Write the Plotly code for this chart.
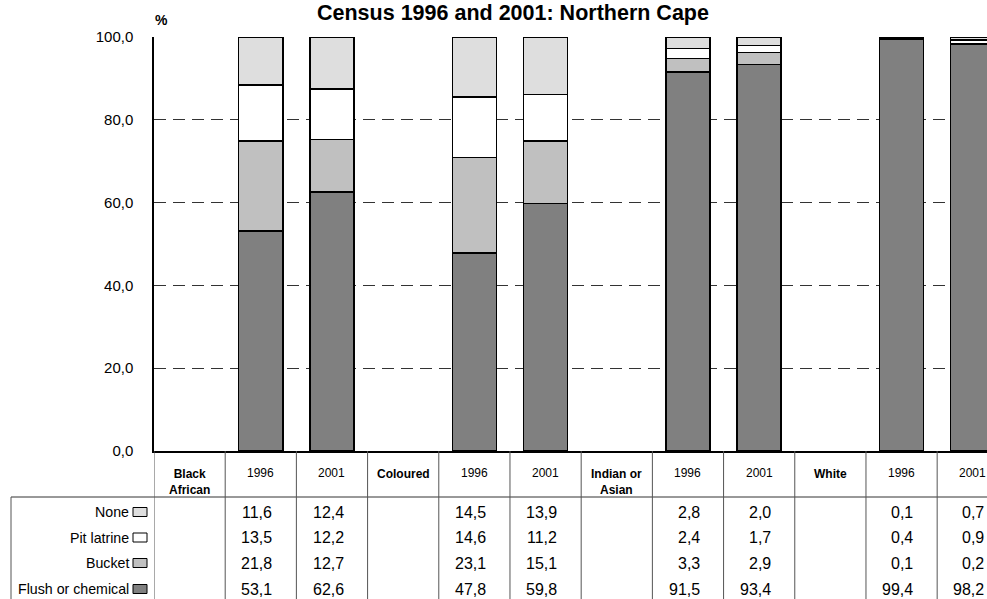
import plotly.graph_objects as go

# ---- data ----
groups = ["Black African", "Coloured", "Indian or Asian", "White"]
group_labels = ["Black<br>African", "Coloured", "Indian or<br>Asian", "White"]
years = ["1996", "2001"]
series = ["None", "Pit latrine", "Bucket", "Flush or chemical"]
flush = [53.1, 62.6, 47.8, 59.8, 91.5, 93.4, 99.4, 98.2]
bucket = [21.8, 12.7, 23.1, 15.1, 3.3, 2.9, 0.1, 0.2]
pit = [13.5, 12.2, 14.6, 11.2, 2.4, 1.7, 0.4, 0.9]
none = [11.6, 12.4, 14.5, 13.9, 2.8, 2.0, 0.1, 0.7]
y_ticks = [0, 20, 40, 60, 80, 100]

FONT = "Liberation Sans, Arial, sans-serif"
W, H = 987, 599
L, T, R = 154, 37, 0
B = H - 451
PW = W - L - R
PH = H - T - B

def px2x(px):
    return (px - L) / PW

def py2y(py):
    return (H - B - py) / PH

# categories: group label column followed by the two year columns
cats = []
bar_cats = []
for g in groups:
    cats.append(g)
    for yr in years:
        cats.append(g + " " + yr)
        bar_cats.append(g + " " + yr)

colors = {"Flush or chemical": "#808080", "Bucket": "#c0c0c0",
          "Pit latrine": "#ffffff", "None": "#dedede"}
vals = {"Flush or chemical": flush, "Bucket": bucket,
        "Pit latrine": pit, "None": none}

fig = go.Figure()
for s in ["Flush or chemical", "Bucket", "Pit latrine", "None"]:
    fig.add_trace(go.Bar(
        x=bar_cats, y=vals[s], name=s, width=0.62,
        marker=dict(color=colors[s], line=dict(color="#000000", width=1.5)),
        showlegend=False, hoverinfo="x+y+name"))

shapes = []
annotations = []

# title and % label
annotations.append(dict(text="<b>Census 1996 and 2001: Northern Cape</b>", xref="paper", yref="paper",
                        x=px2x(513), y=py2y(13), xanchor="center", yanchor="middle",
                        showarrow=False, font=dict(family=FONT, size=21.5, color="#000")))
annotations.append(dict(text="<b>%</b>", xref="paper", yref="paper",
                        x=px2x(153), y=py2y(20), xanchor="left", yanchor="middle",
                        showarrow=False, font=dict(family=FONT, size=14, color="#000")))

# table lines
line_col = "#555555"
shapes.append(dict(type="line", xref="paper", yref="paper", x0=px2x(11), x1=1.0,
                   y0=py2y(497), y1=py2y(497), line=dict(color="#333333", width=1)))
shapes.append(dict(type="line", xref="paper", yref="paper", x0=px2x(11), x1=px2x(11),
                   y0=py2y(497), y1=py2y(600), line=dict(color=line_col, width=1)))
for i in range(len(cats)):
    shapes.append(dict(type="line", xref="x", yref="paper", x0=i - 0.5, x1=i - 0.5,
                       y0=0, y1=py2y(600), line=dict(color=line_col, width=1)))

# header row
for i, c in enumerate(cats):
    if c in groups:
        lab = "<b>" + group_labels[groups.index(c)] + "</b>"
        annotations.append(dict(text=lab, xref="x", yref="paper", x=i, y=py2y(465),
                                xanchor="center", yanchor="top", showarrow=False,
                                font=dict(family=FONT, size=12, color="#000")))
    else:
        annotations.append(dict(text=c.split(" ")[-1], xref="x", yref="paper", x=i, y=py2y(473),
                                xanchor="center", yanchor="middle", showarrow=False,
                                font=dict(family=FONT, size=12, color="#000")))

# data rows
row_py = [512, 537.5, 563, 589]
for r, s in enumerate(series):
    ypos = py2y(row_py[r])
    annotations.append(dict(text=s, xref="paper", yref="paper", x=px2x(131), y=ypos,
                            xanchor="right", yanchor="middle", showarrow=False,
                            font=dict(family=FONT, size=14.2, color="#000")))
    shapes.append(dict(type="rect", xref="paper", yref="paper", x0=px2x(133), x1=px2x(147),
                       y0=py2y(row_py[r] + 4.5), y1=py2y(row_py[r] - 4.5),
                       fillcolor=colors[s], line=dict(color="#000", width=1)))
    for j, bc in enumerate(bar_cats):
        i = cats.index(bc)
        annotations.append(dict(text=("%.1f" % vals[s][j]).replace(".", ","), xref="x", yref="paper",
                                x=i + 0.5 - 22 / 71.2, y=ypos, xanchor="right", yanchor="middle",
                                showarrow=False, font=dict(family=FONT, size=16, color="#000")))

fig.update_layout(
    width=W, height=H, barmode="stack",
    margin=dict(l=L, r=R, t=T, b=B, autoexpand=False),
    paper_bgcolor="#ffffff", plot_bgcolor="#ffffff",
    separators=",.",
    font=dict(family=FONT, size=15, color="#000"),
    shapes=shapes, annotations=annotations,
    xaxis=dict(type="category", categoryorder="array", categoryarray=cats,
               range=[-0.5, 11.2], showticklabels=False, ticks="",
               showgrid=False, showline=True, linecolor="#000", linewidth=1.5,
               zeroline=False, fixedrange=True),
    yaxis=dict(range=[0, 100], tickvals=y_ticks, tickformat=".1f",
               showgrid=True, gridcolor="#333333", gridwidth=1, griddash="12px,7px",
               showline=True, linecolor="#000", linewidth=1.5, zeroline=False,
               ticks="", ticklabelstandoff=16,
               tickfont=dict(family=FONT, size=15, color="#000")),
)

fig.write_html("out.html", config={"displayModeBar": False},
               post_script="document.body.style.margin='0';document.body.style.overflow='hidden';")
